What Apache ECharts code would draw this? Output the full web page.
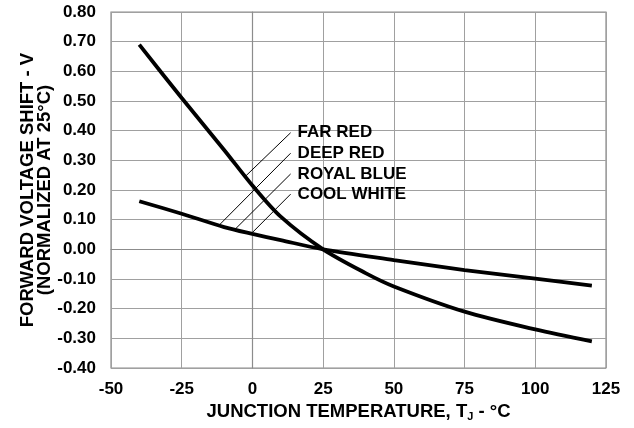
<!DOCTYPE html>
<html>
<head>
<meta charset="utf-8">
<script src="https://cdn.jsdelivr.net/npm/echarts@6/dist/echarts.min.js"></script>
<style>
html,body{margin:0;padding:0;background:#fff;}
#c{width:634px;height:428px;}
</style>
</head>
<body>
<div id="c"></div>
<script>
// Data
var steepTemps = [-40, -25, -10, 0, 10, 25, 40, 50, 75, 100, 120];
var steepShift = [0.69, 0.51, 0.335, 0.215, 0.11, 0, -0.08, -0.125, -0.21, -0.27, -0.31];
var shallowTemps = [-40, -25, -10, 0, 10, 25, 50, 75, 100, 120];
var shallowShift = [0.162, 0.12, 0.075, 0.052, 0.031, 0, -0.036, -0.07, -0.099, -0.122];
var xTicks = [-50, -25, 0, 25, 50, 75, 100, 125];
var yTicks = [-0.4, -0.3, -0.2, -0.1, 0, 0.1, 0.2, 0.3, 0.4, 0.5, 0.6, 0.7, 0.8];
var labelNames = ['FAR RED', 'DEEP RED', 'ROYAL BLUE', 'COOL WHITE'];
var leaderStartT = [13.5, 13.5, 13.5, 13.5];
var leaderStartV = [0.393, 0.324, 0.254, 0.186];
var leaderEndT = [-2.6, -11.5, -6.2, -0.3];
var leaderEndV = [0.245, 0.084, 0.067, 0.054];

var FONT = '"Liberation Sans", Arial, Helvetica, sans-serif';
function zip(a, b) { return a.map(function (v, i) { return [v, b[i]]; }); }

var series = [
  { type: 'line', data: zip(steepTemps, steepShift), smooth: 0.3, symbol: 'none',
    lineStyle: { color: '#000', width: 3.8 }, z: 5, silent: true },
  { type: 'line', data: zip(shallowTemps, shallowShift), smooth: 0.3, symbol: 'none',
    lineStyle: { color: '#000', width: 3.8 }, z: 5, silent: true }
];
labelNames.forEach(function (n, i) {
  series.push({ type: 'line', name: n, symbol: 'none', silent: true, z: 4,
    data: [[leaderEndT[i], leaderEndV[i]], [leaderStartT[i], leaderStartV[i]]],
    lineStyle: { color: '#000', width: 1 } });
});

var chart = echarts.init(document.getElementById('c'), null, { renderer: 'canvas' });
chart.setOption({
  animation: false,
  backgroundColor: '#fff',
  grid: { left: 111, right: 28, top: 12, bottom: 60, show: true, borderColor: '#8c8c8c', borderWidth: 1.2 },
  xAxis: {
    type: 'value', min: xTicks[0], max: xTicks[xTicks.length - 1], interval: 25,
    name: '{a|JUNCTION TEMPERATURE, T}{s|J}{a| - °C}',
    nameLocation: 'middle', nameGap: 33, nameMoveOverlap: false,
    nameTextStyle: { rich: {
      a: { fontFamily: FONT, fontWeight: 'bold', fontSize: 18.5, color: '#000', lineHeight: 21 },
      s: { fontFamily: FONT, fontWeight: 'bold', fontSize: 11, color: '#000', lineHeight: 21, verticalAlign: 'bottom', padding: [8, 0, 0, 0] }
    } },
    axisLine: { show: true, lineStyle: { color: '#8c8c8c', width: 1.2 } },
    axisTick: { show: false },
    splitLine: { show: true, lineStyle: { color: '#a0a0a0', width: 1 } },
    axisLabel: { color: '#000', fontFamily: FONT, fontWeight: 'bold', fontSize: 17, margin: 13 }
  },
  yAxis: {
    type: 'value', min: yTicks[0], max: yTicks[yTicks.length - 1], interval: 0.1,
    name: 'FORWARD VOLTAGE SHIFT - V\n(NORMALIZED AT 25°C)',
    nameLocation: 'middle', nameGap: 58, nameRotate: 90, nameMoveOverlap: false,
    nameTextStyle: { fontFamily: FONT, fontWeight: 'bold', fontSize: 18.5, color: '#000', lineHeight: 17 },
    axisLine: { show: true, lineStyle: { color: '#8c8c8c', width: 1.2 } },
    axisTick: { show: false },
    splitLine: { show: true, lineStyle: { color: '#a0a0a0', width: 1 } },
    axisLabel: { color: '#000', fontFamily: FONT, fontWeight: 'bold', fontSize: 17, margin: 15,
      formatter: function (v) { return (Math.abs(v) < 1e-9 ? 0 : v).toFixed(2); } }
  },
  series: series
});

// Leader labels, placed through the chart's own scales
var labelGraphics = labelNames.map(function (n, i) {
  var p = chart.convertToPixel({ gridIndex: 0 }, [leaderStartT[i], leaderStartV[i]]);
  return {
    type: 'text', x: p[0] + 7, y: p[1], z: 100, silent: true,
    style: { text: n, fill: '#000', font: 'bold 17px ' + FONT,
      textAlign: 'left', textVerticalAlign: 'middle', verticalAlign: 'middle' }
  };
});
chart.setOption({ graphic: labelGraphics });
</script>
</body>
</html>
